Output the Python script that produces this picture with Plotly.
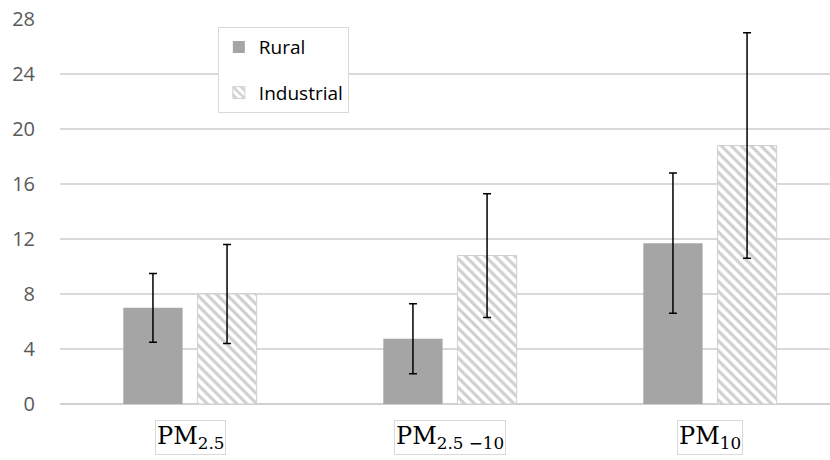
import plotly.graph_objects as go

categories = ["PM<sub>2.5</sub>", "PM<sub>2.5 \u221210</sub>", "PM<sub>10</sub>"]
rural = [7.0, 4.75, 11.7]
rural_err = [2.5, 2.55, 5.1]
industrial = [8.0, 10.8, 18.8]
industrial_err = [3.6, 4.5, 8.2]
y_ticks = [0, 4, 8, 12, 16, 20, 24, 28]

x = list(range(len(categories)))

fig = go.Figure()
fig.add_trace(go.Bar(
    x=x, y=rural, name="Rural", legendgroup="a",
    marker=dict(color="#a5a5a5", line=dict(width=0)),
    error_y=dict(type="data", array=rural_err, visible=True,
                 color="black", thickness=1.5, width=4),
))
fig.add_trace(go.Bar(
    x=x, y=industrial, name="Industrial", legendgroup="b",
    marker=dict(color="white", line=dict(color="#cfcfcf", width=1),
                pattern=dict(shape="\\", fgcolor="#a0a0a0", bgcolor="white",
                             size=7, solidity=0.45)),
    error_y=dict(type="data", array=industrial_err, visible=True,
                 color="black", thickness=1.5, width=4),
))

for i, c in enumerate(categories):
    fig.add_annotation(
        x=i, y=0, xref="x", yref="y", yanchor="top", yshift=-16,
        text=c, showarrow=False,
        font=dict(family="DejaVu Serif", size=24, color="black"),
        bordercolor="#d9d9d9", borderwidth=1, borderpad=1, bgcolor="white",
    )

fig.update_layout(
    width=830, height=460,
    margin=dict(l=60, r=0, t=19, b=56),
    paper_bgcolor="white", plot_bgcolor="white",
    barmode="group", bargap=0.43, bargroupgap=0.2,
    font=dict(family="Open Sans, Liberation Sans, sans-serif", color="#595959"),
    showlegend=True,
    legend=dict(
        x=0.205, y=0.979, xanchor="left", yanchor="top",
        bgcolor="white", bordercolor="#d9d9d9", borderwidth=1,
        font=dict(size=19, color="black"),
        tracegroupgap=18, traceorder="grouped",
    ),
    xaxis=dict(range=[-0.5, 2.4615], showticklabels=False, showgrid=False,
               zeroline=False, showline=False, ticks=""),
    yaxis=dict(range=[0, 28], tickvals=y_ticks, showgrid=True,
               gridcolor="#d9d9d9", gridwidth=2, zeroline=True,
               zerolinecolor="#d0d0d0", zerolinewidth=2,
               tickfont=dict(size=20, color="#595959"), ticks="",
               ticklabelstandoff=24),
)

fig.write_html("out.html")
